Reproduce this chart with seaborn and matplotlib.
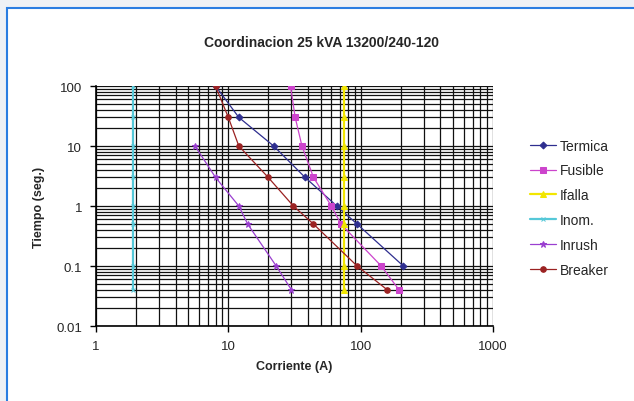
import numpy as np
import pandas as pd
import matplotlib
matplotlib.use("Agg")
import matplotlib.pyplot as plt
import seaborn as sns
from matplotlib.patches import Rectangle
from matplotlib.ticker import LogLocator, FuncFormatter, NullFormatter

# --- data ---
termica_x = [8, 12, 22, 38, 66, 94, 210]
termica_y = [100, 30, 10, 3, 1, 0.5, 0.1]

fusible_x = [29.5, 32, 36, 44, 60, 71, 143, 195]
fusible_y = [100, 30, 10, 3, 1, 0.5, 0.1, 0.04]

ifalla_x = [75, 75, 75, 75, 75, 75, 75, 75]
ifalla_y = [100, 30, 10, 3, 1, 0.5, 0.1, 0.04]

inom_x = [1.9, 1.9, 1.9, 1.9, 1.9, 1.9, 1.9, 1.9]
inom_y = [100, 30, 10, 3, 1, 0.5, 0.1, 0.04]

inrush_x = [5.6, 8, 12, 14, 23, 30]
inrush_y = [10, 3, 1, 0.5, 0.1, 0.04]

breaker_x = [8, 10, 12, 20, 31, 44, 94, 159]
breaker_y = [100, 30, 10, 3, 1, 0.5, 0.1, 0.04]

series = [
    ("Termica", termica_x, termica_y, "#2e2e8f", "D", 3.5, 0.9),
    ("Fusible", fusible_x, fusible_y, "#cc44cc", "s", 4, 0.9),
    ("Ifalla", ifalla_x, ifalla_y, "#f2e600", "^", 4.5, 1.6),
    ("Inom.", inom_x, inom_y, "#55c8d8", "x", 3.5, 1.6),
    ("Inrush", inrush_x, inrush_y, "#9a3fd0", "*", 4.5, 0.9),
    ("Breaker", breaker_x, breaker_y, "#9b2222", "o", 4, 0.9),
]

sns.set_theme(style="white")
plt.rcParams['font.family'] = ['Liberation Sans', 'DejaVu Sans']

fig = plt.figure(figsize=(6.34, 4.02), dpi=100)
fig.patch.set_facecolor("#eef1f5")
# white panel with blue border like the screenshot frame
frame = Rectangle((7 / 634, -0.05), 1.0, 1 - 9 / 402 + 0.05,
                  transform=fig.transFigure, facecolor="white",
                  edgecolor="#2a7de1", linewidth=1.5, zorder=-10)
fig.patches.append(frame)

ax = fig.add_axes([96 / 634, 1 - 327 / 402, (493 - 96) / 634, (327 - 87) / 402])
ax.set_zorder(5)
ax.set_facecolor("white")

for name, xs, ys, col, mk, ms, lw in series:
    sns.lineplot(x=xs, y=ys, ax=ax, estimator=None, sort=False, color=col,
                 marker=mk, markersize=ms, markeredgecolor=col, linewidth=lw,
                 label=name, zorder=3)

ax.set_xscale("log")
ax.set_yscale("log")
ax.set_xlim(1, 1000)
ax.set_ylim(0.01, 100)

ax.xaxis.set_major_locator(LogLocator(base=10))
ax.yaxis.set_major_locator(LogLocator(base=10))
ax.xaxis.set_minor_locator(LogLocator(base=10, subs=np.arange(2, 10)))
ax.yaxis.set_minor_locator(LogLocator(base=10, subs=np.arange(2, 10)))
fmt = FuncFormatter(lambda v, p: f"{v:g}")
ax.xaxis.set_major_formatter(fmt)
ax.yaxis.set_major_formatter(fmt)
ax.xaxis.set_minor_formatter(NullFormatter())
ax.yaxis.set_minor_formatter(NullFormatter())

ax.grid(True, which="both", color="#111111", linewidth=0.9)
ax.tick_params(axis="both", which="major", direction="out", length=4, width=1,
               color="black", labelsize=9.5, pad=6, bottom=True, left=True)
ax.tick_params(axis="both", which="minor", length=0)
for sp in ["top", "right"]:
    ax.spines[sp].set_visible(False)
for sp in ["left", "bottom"]:
    ax.spines[sp].set_color("black")
    ax.spines[sp].set_linewidth(1.2)

ax.set_xlabel("Corriente (A)", fontsize=9, fontweight="bold", labelpad=6)
ax.set_ylabel("Tiempo (seg.)", fontsize=9, fontweight="bold", labelpad=8)
fig.text(322 / 634, 1 - 43 / 402, "Coordinacion 25 kVA 13200/240-120",
         ha="center", va="center", fontsize=10, fontweight="bold")

leg = ax.legend(loc="upper left", bbox_to_anchor=(524 / 634, 1 - 134 / 402),
                bbox_transform=fig.transFigure, frameon=False, fontsize=10,
                handlelength=1.9, handletextpad=0.3, labelspacing=0.78,
                borderaxespad=0)

fig.savefig("out.png", dpi=100, facecolor=fig.get_facecolor())
